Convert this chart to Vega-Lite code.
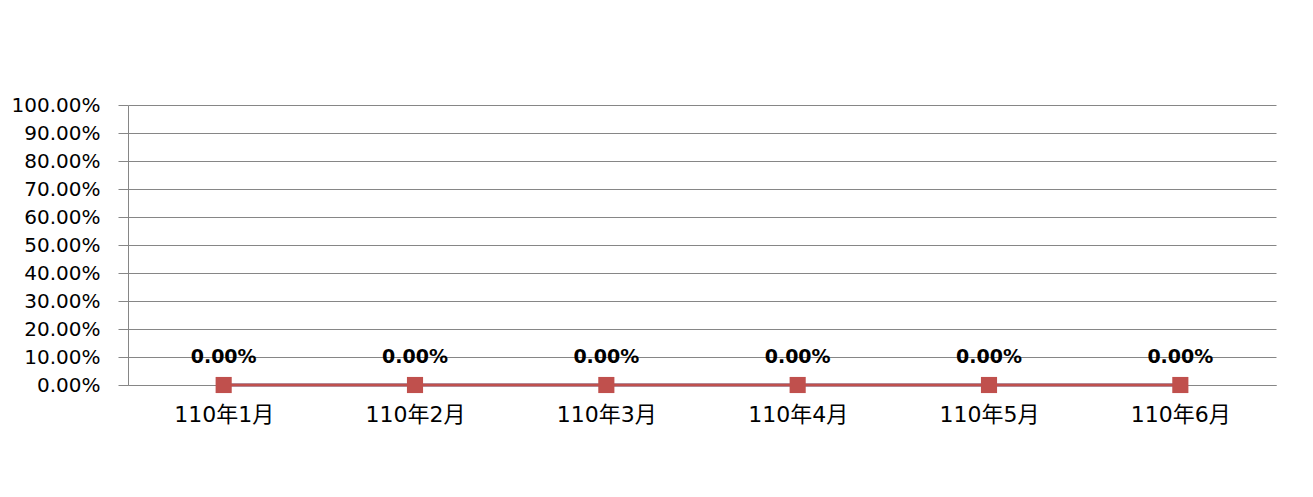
{
  "$schema": "https://vega.github.io/schema/vega-lite/v6.json",
  "width": 1148,
  "height": 280,
  "autosize": {"type": "none"},
  "padding": {"left": 128, "top": 105, "right": 37, "bottom": 112},
  "background": "white",
  "config": {
    "view": {"stroke": null},
    "font": "DejaVu Sans"
  },
  "data": {
    "values": [
      {"month": "110年1月", "series": "系列1", "value": 0},
      {"month": "110年2月", "series": "系列1", "value": 0},
      {"month": "110年3月", "series": "系列1", "value": 0},
      {"month": "110年4月", "series": "系列1", "value": 0},
      {"month": "110年5月", "series": "系列1", "value": 0},
      {"month": "110年6月", "series": "系列1", "value": 0},
      {"month": "110年1月", "series": "系列2", "value": 0},
      {"month": "110年2月", "series": "系列2", "value": 0},
      {"month": "110年3月", "series": "系列2", "value": 0},
      {"month": "110年4月", "series": "系列2", "value": 0},
      {"month": "110年5月", "series": "系列2", "value": 0},
      {"month": "110年6月", "series": "系列2", "value": 0}
    ]
  },
  "encoding": {
    "x": {
      "field": "month",
      "type": "nominal",
      "sort": null,
      "scale": {"paddingInner": 0, "paddingOuter": 0},
      "axis": {
        "title": null,
        "labelAngle": 0,
        "labelFont": "DejaVu Sans, Noto Sans CJK TC",
        "labelFontSize": 22,
        "labelColor": "#000000",
        "labelPadding": 13,
        "bandPosition": 0,
        "tickSize": 6,
        "tickColor": "#868686",
        "domainColor": "#868686",
        "grid": false
      }
    },
    "y": {
      "field": "value",
      "type": "quantitative",
      "scale": {"domain": [0, 1], "nice": false},
      "axis": {
        "title": null,
        "format": ".2%",
        "values": [0, 0.1, 0.2, 0.3, 0.4, 0.5, 0.6, 0.7, 0.8, 0.9, 1],
        "labelFontSize": 20,
        "labelColor": "#000000",
        "labelPadding": 18,
        "tickSize": 10,
        "tickColor": "#868686",
        "domainColor": "#868686",
        "gridColor": "#868686",
        "gridOpacity": 1,
        "grid": true
      }
    }
  },
  "layer": [
    {
      "mark": {"type": "line", "strokeWidth": 3},
      "encoding": {
        "color": {
          "field": "series",
          "type": "nominal",
          "scale": {"domain": ["系列1", "系列2"], "range": ["#4F81BD", "#C0504D"]},
          "legend": null
        }
      }
    },
    {
      "mark": {"type": "point", "shape": "square", "filled": true, "size": 260, "opacity": 1},
      "transform": [{"filter": "datum.series === '系列2'"}],
      "encoding": {
        "color": {"value": "#C0504D"}
      }
    },
    {
      "mark": {"type": "text", "fontSize": 19, "fontWeight": "bold", "baseline": "alphabetic", "dy": -22, "color": "#000000"},
      "transform": [{"filter": "datum.series === '系列2'"}],
      "encoding": {
        "text": {"field": "value", "type": "quantitative", "format": ".2%"}
      }
    }
  ]
}
